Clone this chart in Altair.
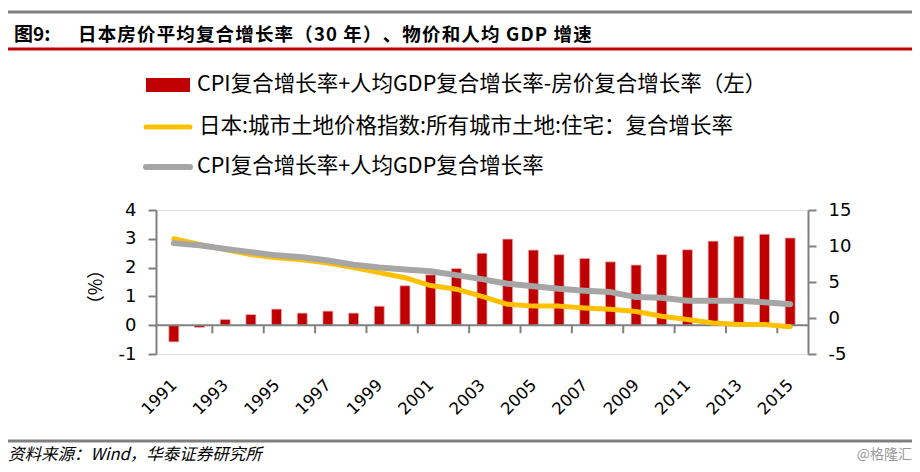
import altair as alt
import pandas as pd

years = list(range(1991, 2016))
bar_vals = [-0.58, -0.08, 0.20, 0.37, 0.56, 0.42, 0.49, 0.42, 0.66, 1.37,
            1.75, 1.97, 2.50, 2.99, 2.61, 2.45, 2.32, 2.20, 2.09, 2.45,
            2.62, 2.92, 3.09, 3.16, 3.03]
land_vals = [11.0, 10.2, 9.5, 8.8, 8.35, 8.1, 7.65, 7.0, 6.3, 5.6,
             4.5, 4.0, 3.0, 1.9, 1.65, 1.65, 1.4, 1.2, 0.9, 0.25,
             -0.2, -0.7, -0.9, -0.9, -1.2]
cpigdp_vals = [10.4, 10.1, 9.6, 9.15, 8.7, 8.45, 8.0, 7.4, 7.0, 6.75,
               6.5, 5.95, 5.4, 4.75, 4.4, 4.05, 3.8, 3.6, 2.9, 2.8,
               2.4, 2.4, 2.4, 2.2, 1.9]
x_label_years = list(range(1991, 2016, 2))
tick_pos = [y + 0.5 for y in range(1992, 2015, 2)]
left_ticks = [-1, 0, 1, 2, 3, 4]
right_ticks = [-5, 0, 5, 10, 15]

title_num = "图9:"
title_main = "日本房价平均复合增长率（30 年）、物价和人均 GDP 增速"
legend_bar = "CPI复合增长率+人均GDP复合增长率-房价复合增长率（左）"
legend_land = "日本:城市土地价格指数:所有城市土地:住宅：复合增长率"
legend_cg = "CPI复合增长率+人均GDP复合增长率"
y_title = "（%）"
source = "资料来源：Wind，华泰证券研究所"
watermark = "@格隆汇"

df = pd.DataFrame({"year": years, "bar": bar_vals, "land": land_vals, "cg": cpigdp_vals})
tick_df = pd.DataFrame({"tx": tick_pos, "t0": [0.0] * len(tick_pos), "t1": [-0.28] * len(tick_pos)})
zero_df = pd.DataFrame({"z": [0.0]})

W, H = 652, 144
GRAY = "#808080"
NUMFONT = "DejaVu Sans"
CJK = "Noto Sans CJK SC"
HAIR = "\u200a"

xscale = alt.Scale(domain=[1990.5, 2015.5], nice=False, zero=False)
yl = alt.Scale(domain=[-1, 4], nice=False)
yr = alt.Scale(domain=[-5, 15], nice=False)

x_axis = alt.Axis(values=x_label_years, format="d", labelAngle=-45, labelAlign="right",
                  labelBaseline="middle", domain=False, ticks=False, grid=False,
                  labelFont=NUMFONT, labelFontSize=16.5, labelColor="#000000",
                  labelPadding=28, title=None)
left_axis = alt.Axis(values=left_ticks, orient="left", domainColor=GRAY, domainWidth=2,
                     tickColor=GRAY, tickWidth=2, tickSize=8, labelFont=NUMFONT,
                     labelFontSize=18, labelColor="#000000", labelPadding=12,
                     labelExpr="'' + datum.value", grid=False, title=None)
right_axis = alt.Axis(values=right_ticks, orient="right", domainColor=GRAY, domainWidth=2,
                      tickColor=GRAY, tickWidth=2, tickSize=8, labelFont=NUMFONT,
                      labelFontSize=18, labelColor="#000000", labelPadding=12,
                      labelExpr="'' + datum.value", grid=False, title=None)

bars = alt.Chart(df).mark_bar(size=10, color="#C00000", stroke="#E6B8B7", strokeWidth=0.8).encode(
    x=alt.X("year:Q", scale=xscale, axis=x_axis),
    y=alt.Y("bar:Q", scale=yl, axis=left_axis),
)
zero_rule = alt.Chart(zero_df).mark_rule(color=GRAY, strokeWidth=2).encode(
    x=alt.value(0), x2=alt.value(W),
    y=alt.Y("z:Q", scale=yl, axis=left_axis),
)
xticks = alt.Chart(tick_df).mark_rule(color=GRAY, strokeWidth=2).encode(
    x=alt.X("tx:Q", scale=xscale, axis=x_axis),
    y=alt.Y("t0:Q", scale=yl, axis=left_axis),
    y2="t1:Q",
)
left_layer = alt.layer(bars, zero_rule, xticks)

land_line = alt.Chart(df).mark_line(color="#FFC000", strokeWidth=5, strokeCap="round", strokeJoin="round").encode(
    x=alt.X("year:Q", scale=xscale, axis=x_axis),
    y=alt.Y("land:Q", scale=yr, axis=right_axis),
)
cg_line = alt.Chart(df).mark_line(color="#A6A6A6", strokeWidth=6, strokeCap="round", strokeJoin="round").encode(
    x=alt.X("year:Q", scale=xscale, axis=x_axis),
    y=alt.Y("cg:Q", scale=yr, axis=right_axis),
)
right_layer = alt.layer(land_line, cg_line)

one = alt.Data(values=[{"k": 1}])


def hrule(x1, x2, y, color, w, cap="butt"):
    return alt.Chart(one).mark_rule(color=color, strokeWidth=w, strokeCap=cap).encode(
        x=alt.value(x1), x2=alt.value(x2), y=alt.value(y))


def txt(s, x, y, size, **kw):
    return alt.Chart(one).mark_text(align=kw.pop("align", "left"), baseline="middle",
                                    fontSize=size, **kw).encode(
        x=alt.value(x), y=alt.value(y), text=alt.value(s))


spaced_title = HAIR.join(list(title_main))

decor = [
    hrule(-149, 764, -198, GRAY, 3),
    txt(title_num, -142, -175, 19, font=CJK, fontWeight="bold", color="#000000"),
    txt(spaced_title, -78, -175, 18.5, font=CJK, fontWeight="bold", color="#000000"),
    hrule(-149, 764, -161, "#C00000", 3),
    alt.Chart(one).mark_rect(color="#C00000").encode(
        x=alt.value(-10), x2=alt.value(34), y=alt.value(-132), y2=alt.value(-118)),
    txt(legend_bar, 41, -125, 21.5, font=CJK, color="#000000"),
    hrule(-10, 34, -83, "#FFC000", 5, "round"),
    txt(legend_land, 43, -83, 21.5, font=CJK, color="#000000"),
    hrule(-10, 34, -43, "#A6A6A6", 6, "round"),
    txt(legend_cg, 41, -43, 21.5, font=CJK, color="#000000"),
    txt(y_title, -59, 77, 18, font=CJK, color="#000000", angle=270, align="center"),
    hrule(-152, 764, 231, GRAY, 3),
    txt(source, -148, 245, 16.5, font=CJK, fontStyle="italic", color="#000000"),
    txt(watermark, 756, 245, 14, font=CJK, color="#999999", align="right"),
]

chart = alt.layer(left_layer, right_layer, *decor).resolve_scale(y="independent").properties(
    width=W, height=H,
    padding={"left": 148, "top": 202, "right": 104, "bottom": 110},
    autosize=alt.AutoSizeParams(type="none"),
).configure_view(stroke=None).configure(background="#FFFFFF")

chart.save("out.html", embed_options={"renderer": "svg", "actions": False})
